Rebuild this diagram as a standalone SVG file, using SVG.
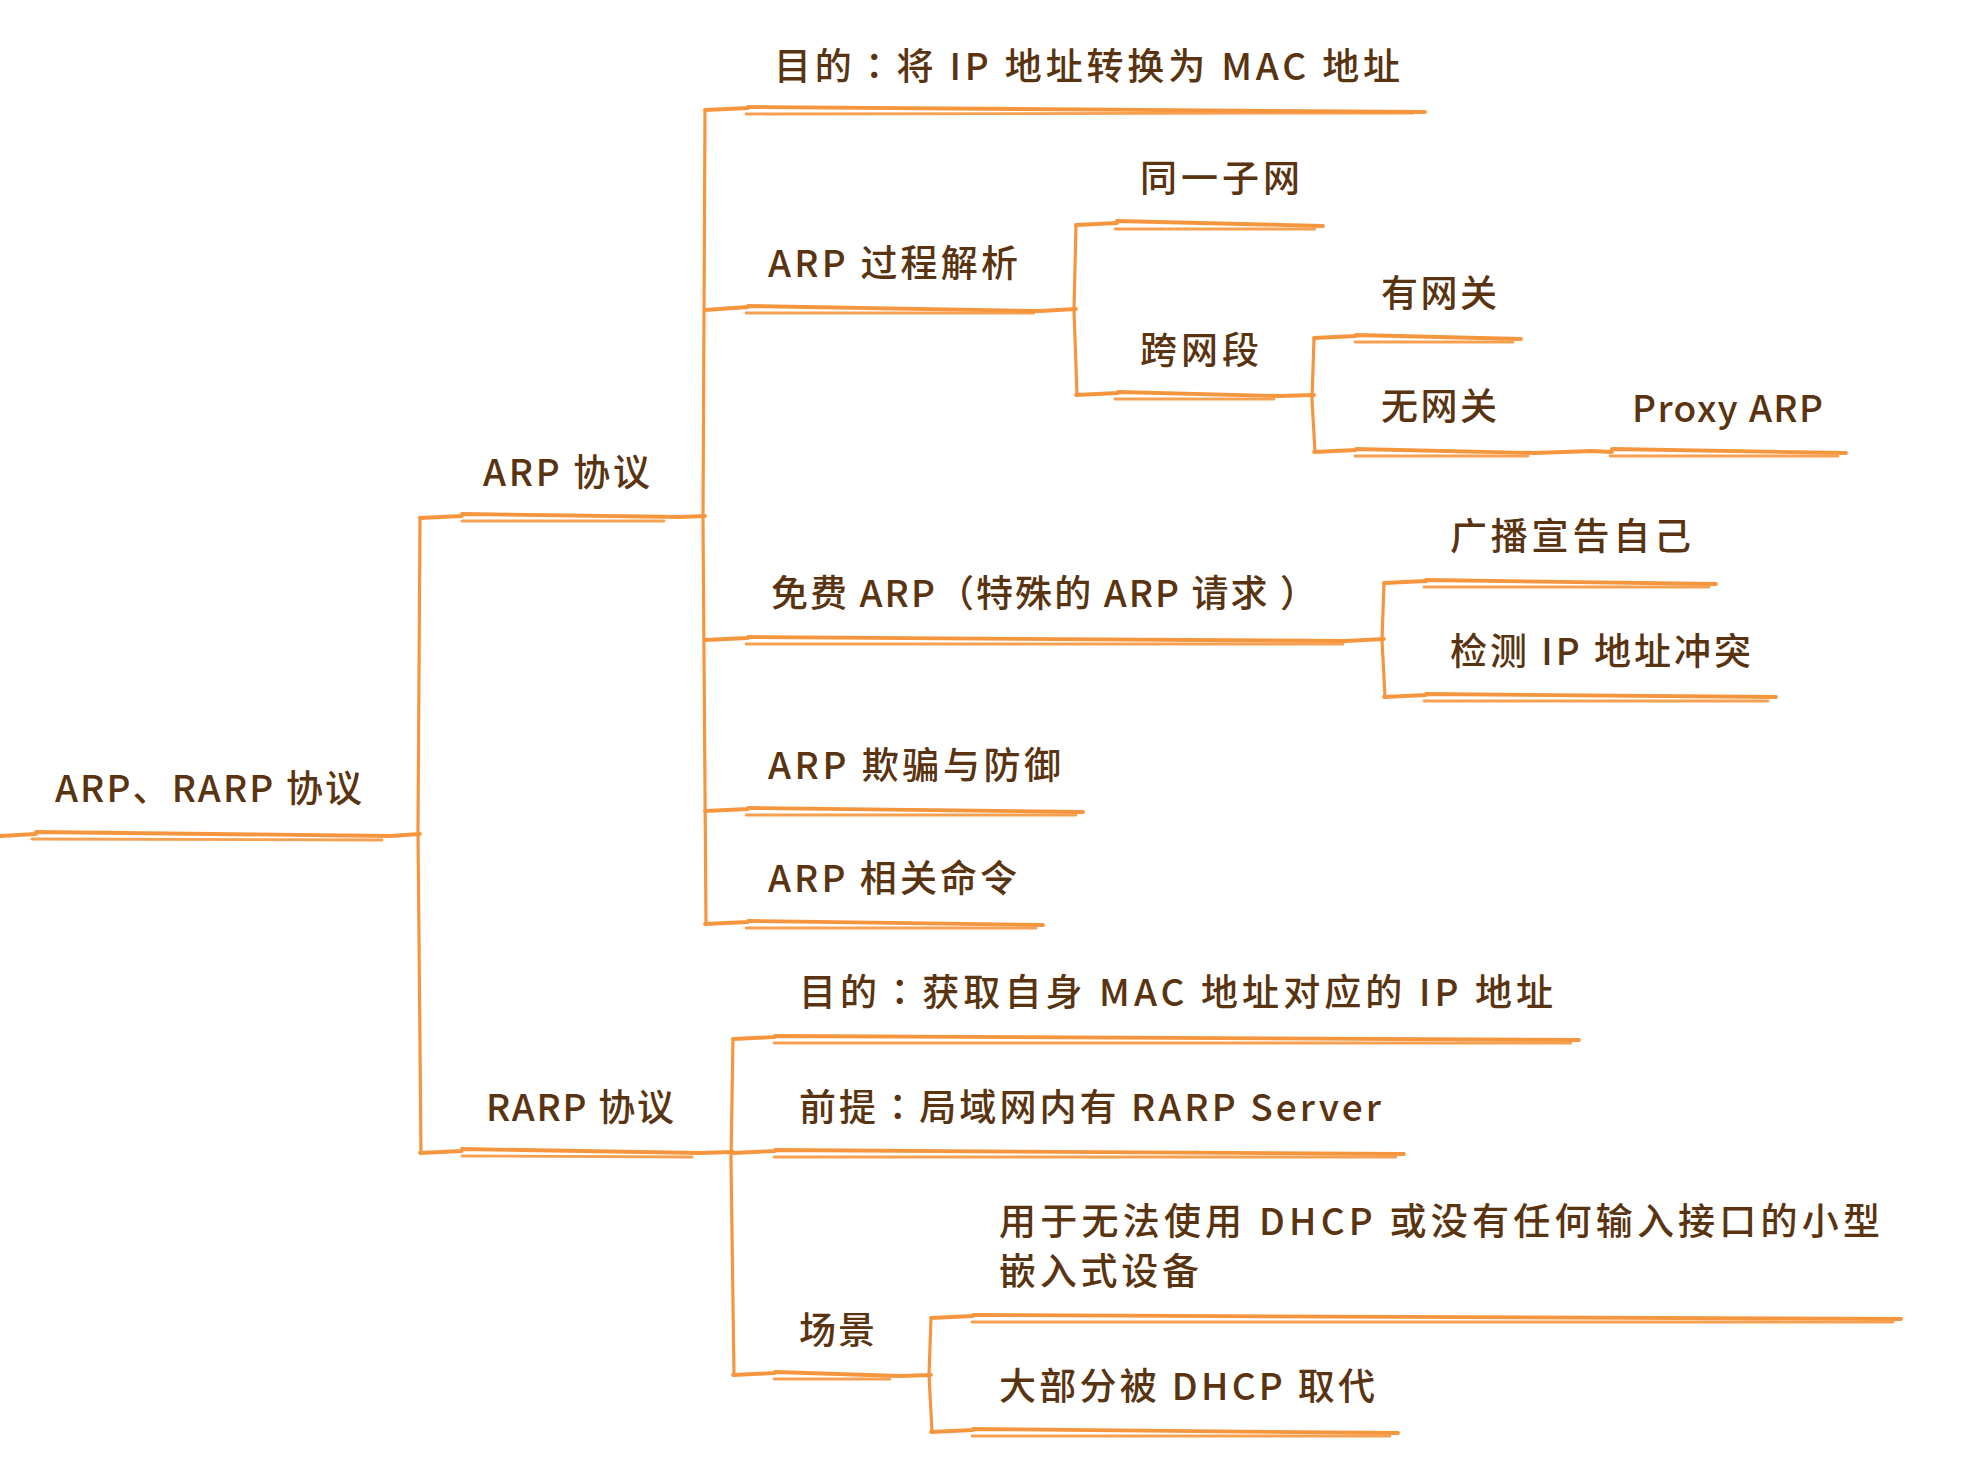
<svg xmlns="http://www.w3.org/2000/svg" width="1966" height="1478" viewBox="0 0 1966 1478">
<style>
text{font-family:"Noto Sans CJK SC","Noto Sans",sans-serif;font-size:37px;font-weight:500;fill:#5a3410;}
.c{font-family:"Noto Sans CJK TC","Noto Sans CJK SC",sans-serif;}
.l1{fill:none;stroke:#f5963f;stroke-width:3.8;stroke-linecap:round;stroke-linejoin:round;}
.l2{fill:none;stroke:#f5963f;stroke-width:2.8;stroke-linecap:round;opacity:0.9;}
.v{fill:none;stroke:#f5963f;stroke-width:3.2;stroke-linecap:round;}
</style>
<rect width="1966" height="1478" fill="#ffffff"/>
<g id="connectors">
<path class="v" d="M420,517 L418,830 L421,1153"/>
<path class="v" d="M705,110 L703,520 L706,924"/>
<path class="v" d="M1076,225 L1074,310 L1077,395"/>
<path class="v" d="M1314,338 L1312,400 L1315,452"/>
<path class="v" d="M1384,583 L1382,640 L1385,697"/>
<path class="v" d="M733,1039 L731,1160 L734,1375"/>
<path class="v" d="M931,1318 L929,1375 L932,1432"/>
<path class="l1" d="M0,836 L36,834 M36,832 L390,836 L420,834"/>
<path class="l2" d="M32,839 L382,840"/>
<path class="l1" d="M420,518 L462,516 M462,514 L680,517 L705,516"/>
<path class="l2" d="M462,521 L664,521"/>
<path class="l1" d="M420,1153 L462,1151 M462,1149 L700,1153 L733,1152"/>
<path class="l2" d="M462,1156 L692,1157"/>
<path class="l1" d="M705,110 L748,108 M748,107 L1425,112"/>
<path class="l2" d="M746,114 L1414,113"/>
<path class="l1" d="M705,310 L748,307 M748,306 L1040,311 L1076,309"/>
<path class="l2" d="M746,313 L1034,313"/>
<path class="l1" d="M1076,225 L1117,223 M1117,221 L1323,226"/>
<path class="l2" d="M1115,229 L1315,229"/>
<path class="l1" d="M1076,395 L1118,393 M1118,392 L1280,396 L1314,395"/>
<path class="l2" d="M1115,399 L1274,399"/>
<path class="l1" d="M1314,338 L1356,336 M1356,335 L1521,339"/>
<path class="l2" d="M1355,342 L1513,342"/>
<path class="l1" d="M1314,452 L1356,450 M1356,449 L1535,453"/>
<path class="l2" d="M1355,456 L1528,456"/>
<path class="l1" d="M1535,453 L1592,451 L1612,452 M1612,449 L1846,453"/>
<path class="l2" d="M1610,456 L1838,456"/>
<path class="l1" d="M705,640 L748,638 M748,637 L1345,641 L1384,639"/>
<path class="l2" d="M746,644 L1343,644"/>
<path class="l1" d="M1384,583 L1426,581 M1426,580 L1716,584"/>
<path class="l2" d="M1424,587 L1709,587"/>
<path class="l1" d="M1384,697 L1426,695 M1426,694 L1776,697"/>
<path class="l2" d="M1424,701 L1768,701"/>
<path class="l1" d="M705,811 L748,809 M748,808 L1083,812"/>
<path class="l2" d="M746,815 L1076,815"/>
<path class="l1" d="M705,924 L748,922 M748,921 L1043,925"/>
<path class="l2" d="M746,928 L1036,928"/>
<path class="l1" d="M733,1039 L775,1037 M775,1036 L1579,1040"/>
<path class="l2" d="M774,1043 L1571,1043"/>
<path class="l1" d="M733,1153 L775,1151 M775,1150 L1404,1154"/>
<path class="l2" d="M774,1157 L1396,1157"/>
<path class="l1" d="M733,1375 L775,1373 M775,1372 L900,1376 L931,1375"/>
<path class="l2" d="M774,1379 L890,1379"/>
<path class="l1" d="M931,1318 L973,1316 M973,1315 L1901,1319"/>
<path class="l2" d="M972,1322 L1893,1322"/>
<path class="l1" d="M931,1432 L973,1430 M973,1429 L1398,1433"/>
<path class="l2" d="M972,1436 L1390,1436"/>
</g>
<g id="root"><text x="55" y="802" textLength="307" lengthAdjust="spacing">ARP、RARP 协议</text></g>
<g id="arp"><text x="483" y="486" textLength="167" lengthAdjust="spacing">ARP 协议</text></g>
<g id="rarp"><text x="486" y="1121" textLength="188" lengthAdjust="spacing">RARP 协议</text></g>
<g id="arp-goal"><text x="774" y="80" textLength="626" lengthAdjust="spacing">目的<tspan class="c">：</tspan>将 IP 地址转换为 MAC 地址</text></g>
<g id="arp-process"><text x="768" y="277" textLength="250" lengthAdjust="spacing">ARP 过程解析</text></g>
<g id="same-subnet"><text x="1140" y="192" textLength="160" lengthAdjust="spacing">同一子网</text></g>
<g id="cross-segment"><text x="1140" y="364" textLength="119" lengthAdjust="spacing">跨网段</text></g>
<g id="with-gateway"><text x="1381" y="307" textLength="116" lengthAdjust="spacing">有网关</text></g>
<g id="no-gateway"><text x="1381" y="420" textLength="116" lengthAdjust="spacing">无网关</text></g>
<g id="proxy-arp"><text x="1632" y="422" textLength="191" lengthAdjust="spacing">Proxy ARP</text></g>
<g id="gratuitous-arp"><text x="771" y="607" textLength="546" lengthAdjust="spacing">免费 ARP<tspan class="c">（</tspan>特殊的 ARP 请求 <tspan class="c">）</tspan></text></g>
<g id="broadcast-self"><text x="1450" y="550" textLength="241" lengthAdjust="spacing">广播宣告自己</text></g>
<g id="detect-conflict"><text x="1450" y="665" textLength="301" lengthAdjust="spacing">检测 IP 地址冲突</text></g>
<g id="arp-spoof"><text x="768" y="779" textLength="293" lengthAdjust="spacing">ARP 欺骗与防御</text></g>
<g id="arp-commands"><text x="768" y="892" textLength="249" lengthAdjust="spacing">ARP 相关命令</text></g>
<g id="rarp-goal"><text x="799" y="1006" textLength="754" lengthAdjust="spacing">目的<tspan class="c">：</tspan>获取自身 MAC 地址对应的 IP 地址</text></g>
<g id="rarp-premise"><text x="799" y="1121" textLength="582" lengthAdjust="spacing">前提<tspan class="c">：</tspan>局域网内有 RARP Server</text></g>
<g id="rarp-scene"><text x="799" y="1344" textLength="76" lengthAdjust="spacing">场景</text></g>
<g id="scene-embedded"><text x="999" y="1235" textLength="881" lengthAdjust="spacing">用于无法使用 DHCP 或没有任何输入接口的小型</text><text x="999" y="1285" textLength="200" lengthAdjust="spacing">嵌入式设备</text></g>
<g id="scene-replaced"><text x="999" y="1400" textLength="376" lengthAdjust="spacing">大部分被 DHCP 取代</text></g>
</svg>
